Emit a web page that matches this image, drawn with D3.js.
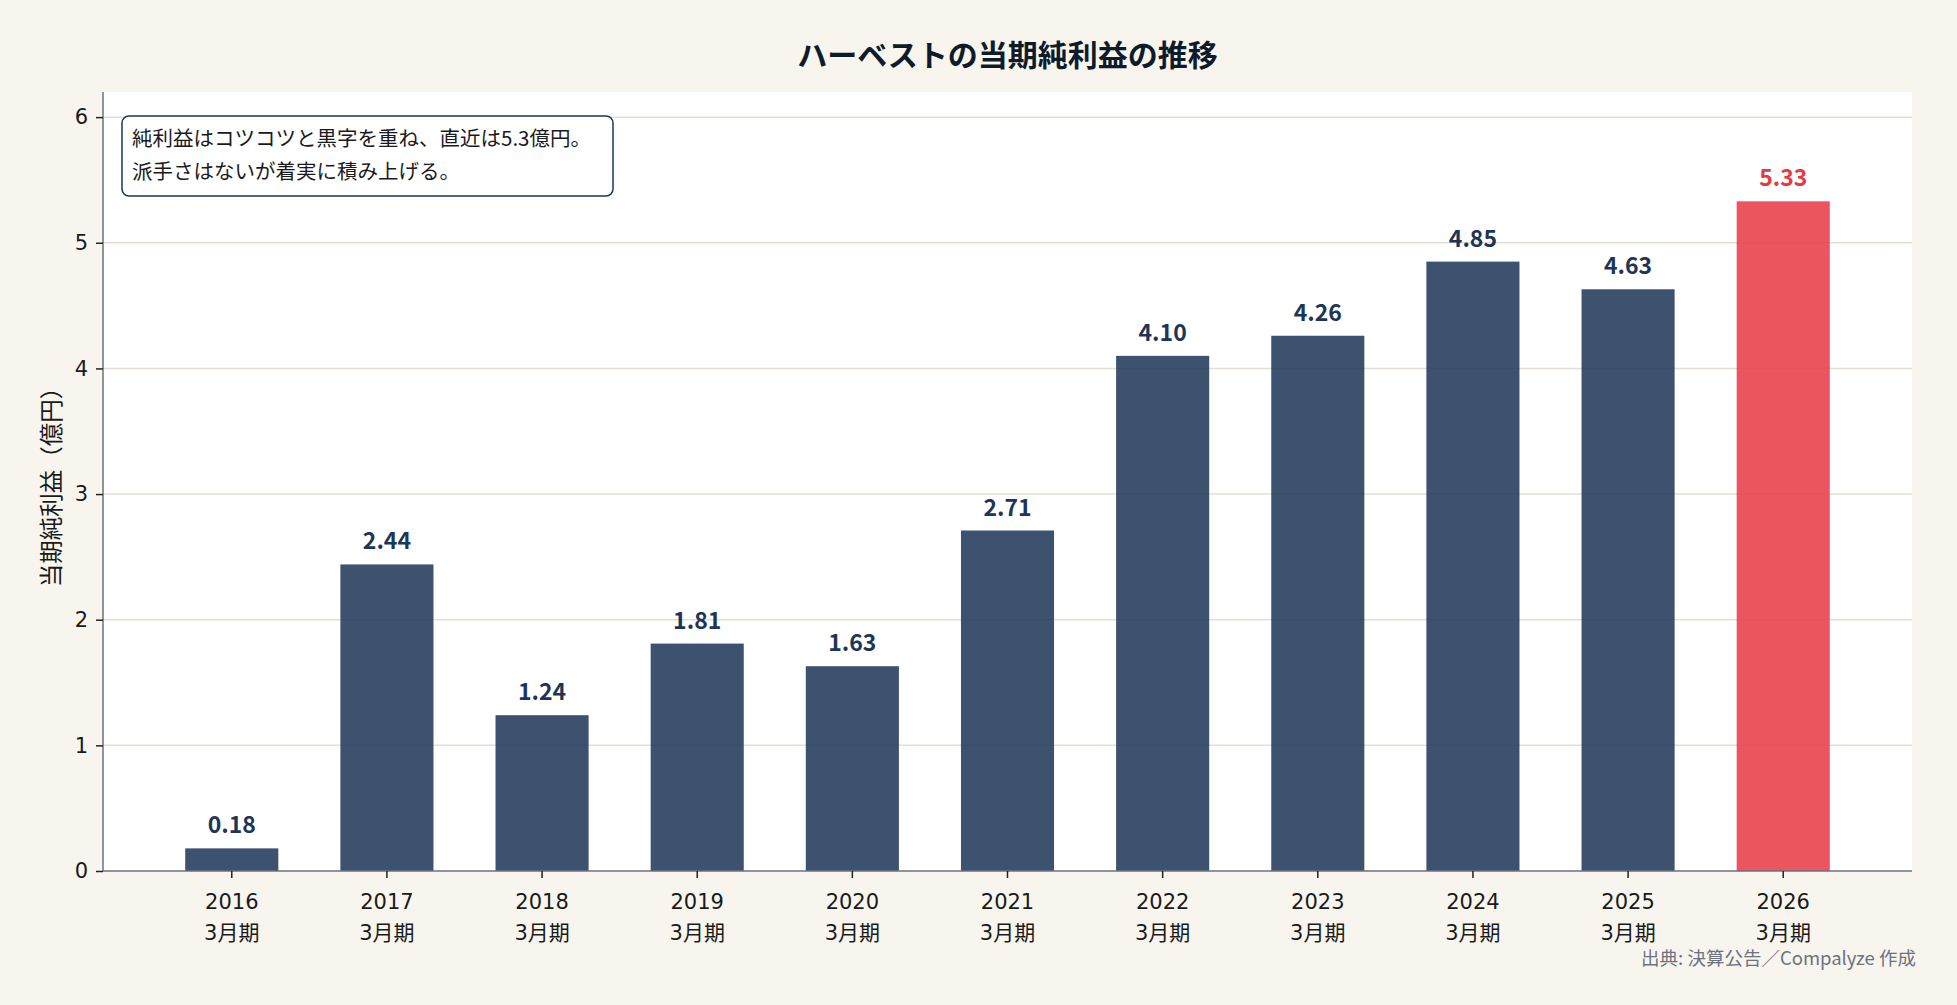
<!DOCTYPE html>
<html>
<head>
<meta charset="utf-8">
<script src="https://cdn.jsdelivr.net/npm/d3@7"></script>
<style>
  html, body { margin: 0; padding: 0; background: #f8f5ee; }
  svg { display: block; font-family: "Noto Sans CJK JP", "Noto Sans", sans-serif; }
</style>
</head>
<body>
<svg id="chart" width="1957" height="1005"></svg>
<script>
// データ
const years = ['2016', '2017', '2018', '2019', '2020', '2021', '2022', '2023', '2024', '2025', '2026'];
const periodLabel = '3月期';
const netIncome = [0.18, 2.44, 1.24, 1.81, 1.63, 2.71, 4.10, 4.26, 4.85, 4.63, 5.33];
const yTicks = [0, 1, 2, 3, 4, 5, 6];
const noteLines = ['純利益はコツコツと黒字を重ね、直近は5.3億円。', '派手さはないが着実に積み上げる。'];

const width = 1957;
const height = 1005;
const margin = { top: 92, right: 45, bottom: 134, left: 103 };

const navy = '#1d3557';
const red = '#e63946';
const tickFont = '"DejaVu Sans", "Noto Sans CJK JP", sans-serif';

const svg = d3.select('#chart');

// 背景
svg.append('rect').attr('width', width).attr('height', height).attr('fill', '#f8f5ee');
svg.append('rect')
  .attr('x', margin.left).attr('y', margin.top)
  .attr('width', width - margin.left - margin.right)
  .attr('height', height - margin.top - margin.bottom)
  .attr('fill', '#ffffff');

// スケール
const x = d3.scaleBand()
  .domain(years)
  .range([margin.left, width - margin.right])
  .paddingInner(0.4)
  .paddingOuter(0.53);

const y = d3.scaleLinear()
  .domain([0, 6.2])
  .range([height - margin.bottom, margin.top]);

// グリッド線
svg.append('g')
  .selectAll('line')
  .data(yTicks.filter(d => d > 0))
  .enter().append('line')
  .attr('x1', margin.left)
  .attr('x2', width - margin.right)
  .attr('y1', d => y(d))
  .attr('y2', d => y(d))
  .attr('stroke', '#e4dfd2')
  .attr('stroke-width', 1.5);

// 棒
const last = years.length - 1;
svg.append('g')
  .selectAll('rect')
  .data(netIncome)
  .enter().append('rect')
  .attr('x', (d, i) => x(years[i]))
  .attr('y', d => y(d))
  .attr('width', x.bandwidth())
  .attr('height', d => y(0) - y(d))
  .attr('fill', (d, i) => i === last ? red : navy)
  .attr('fill-opacity', 0.86);

// 値ラベル
svg.append('g')
  .selectAll('text')
  .data(netIncome)
  .enter().append('text')
  .attr('x', (d, i) => x(years[i]) + x.bandwidth() / 2)
  .attr('y', d => y(d) - 15)
  .attr('text-anchor', 'middle')
  .attr('font-size', 23)
  .attr('font-weight', 'bold')
  .attr('fill', (d, i) => i === last ? red : navy)
  .text(d => d.toFixed(2));

// Y軸
const yAxis = svg.append('g')
  .attr('transform', `translate(${margin.left},0)`)
  .call(d3.axisLeft(y).tickValues(yTicks).tickFormat(d3.format('d')).tickSize(7).tickPadding(8));
yAxis.select('.domain').attr('stroke', '#6b7280').attr('stroke-width', 1.5)
  .attr('d', `M0,${y(0)}V${margin.top}`);
yAxis.selectAll('.tick line').attr('stroke', '#222').attr('stroke-width', 1.5);
yAxis.selectAll('.tick text').attr('font-size', 21).attr('fill', '#1a1a1a')
  .attr('font-family', tickFont);

// X軸
const xAxis = svg.append('g')
  .attr('transform', `translate(0,${y(0)})`)
  .call(d3.axisBottom(x).tickSize(7).tickPadding(8));
xAxis.select('.domain').attr('stroke', '#6b7280').attr('stroke-width', 1.5)
  .attr('d', `M${margin.left},0H${width - margin.right}`);
xAxis.selectAll('.tick line').attr('stroke', '#222').attr('stroke-width', 1.5);
xAxis.selectAll('.tick text').remove();
xAxis.selectAll('.tick').each(function(d) {
  const t = d3.select(this).append('text')
    .attr('fill', '#1a1a1a')
    .attr('font-size', 21)
    .attr('text-anchor', 'middle')
    .attr('font-family', tickFont);
  t.append('tspan').attr('x', 0).attr('y', 31).attr('dy', '0.35em').text(d);
  t.append('tspan').attr('x', 0).attr('y', 62).attr('dy', '0.35em').text(periodLabel);
});

// タイトル
svg.append('text')
  .attr('x', (margin.left + width - margin.right) / 2)
  .attr('y', 55)
  .attr('dy', '0.35em')
  .attr('text-anchor', 'middle')
  .attr('font-size', 30)
  .attr('font-weight', 'bold')
  .attr('fill', '#0d1b2a')
  .text('ハーベストの当期純利益の推移');

// Y軸ラベル
svg.append('text')
  .attr('transform', `translate(52,${(margin.top + y(0)) / 2}) rotate(-90)`)
  .attr('dy', '0.35em')
  .attr('text-anchor', 'middle')
  .attr('font-size', 23.5)
  .attr('fill', '#1a1a1a')
  .text('当期純利益（億円）');

// 注記ボックス
const note = svg.append('g');
note.append('rect')
  .attr('x', 122).attr('y', 116)
  .attr('width', 491).attr('height', 80)
  .attr('rx', 7)
  .attr('fill', '#ffffff')
  .attr('stroke', navy)
  .attr('stroke-width', 1.5);
note.selectAll('text')
  .data(noteLines)
  .enter().append('text')
  .attr('x', 132)
  .attr('y', (d, i) => 139 + i * 33)
  .attr('dy', '0.35em')
  .attr('font-size', 20.5)
  .attr('fill', '#1a1a1a')
  .text(d => d);

// 出典
svg.append('text')
  .attr('x', 1916)
  .attr('y', 959)
  .attr('dy', '0.35em')
  .attr('text-anchor', 'end')
  .attr('font-size', 18.5)
  .attr('fill', '#6b7280')
  .text('出典: 決算公告／Compalyze 作成');
</script>
</body>
</html>
